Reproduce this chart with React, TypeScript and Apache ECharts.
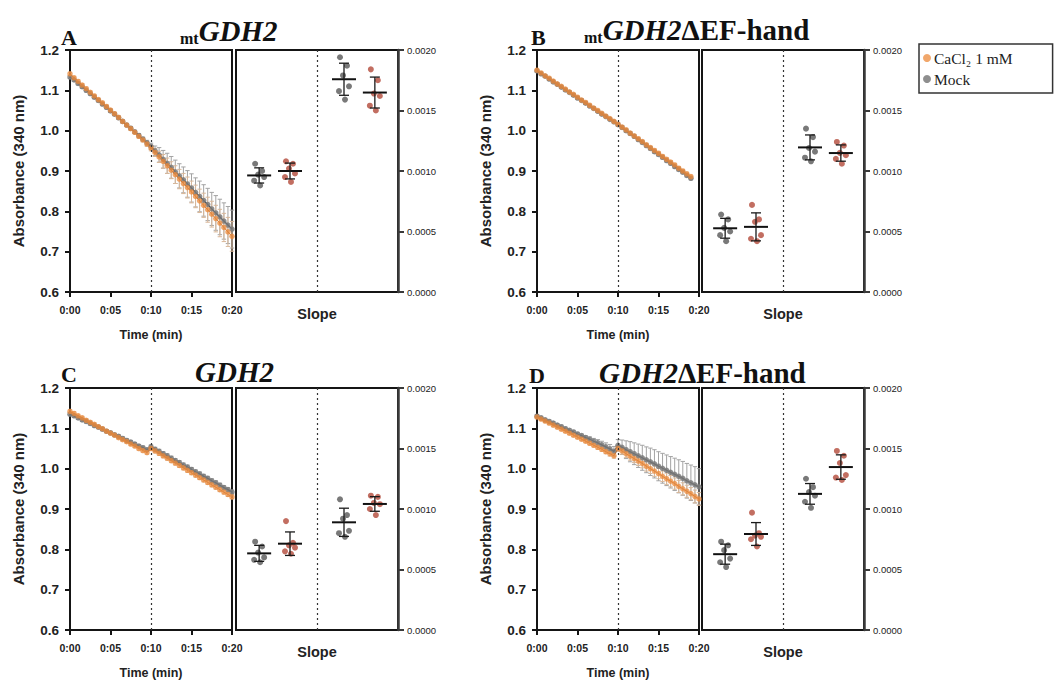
import React, { useEffect, useRef } from "react";
import * as echarts from "echarts";

// ---------------- DATA ----------------
const TIME = [0, 0.5, 1, 1.5, 2, 2.5, 3, 3.5, 4, 4.5, 5, 5.5, 6, 6.5, 7, 7.5, 8, 8.5, 9, 9.5, 10,
  10.5, 11, 11.5, 12, 12.5, 13, 13.5, 14, 14.5, 15, 15.5, 16, 16.5, 17, 17.5, 18, 18.5, 19, 19.5, 20];
const TIME_B = [0, 0.5, 1, 1.5, 2, 2.5, 3, 3.5, 4, 4.5, 5, 5.5, 6, 6.5, 7, 7.5, 8, 8.5, 9, 9.5, 10,
  10.5, 11, 11.5, 12, 12.5, 13, 13.5, 14, 14.5, 15, 15.5, 16, 16.5, 17, 17.5, 18, 18.5, 19];

const X_TICK_LABELS = ["0:00", "0:05", "0:10", "0:15", "0:20"];
const SERIES_NAMES = ["CaCl\u2082 1 mM", "Mock"];
const SLOPE_GROUPS = ["Mock 0:00-0:10", "CaCl2 0:00-0:10", "Mock 0:10-0:20", "CaCl2 0:10-0:20"];

// Panel A  (mtGDH2)
const A_MOCK = [1.133, 1.126, 1.117, 1.109, 1.100, 1.092, 1.083, 1.075, 1.066, 1.058, 1.049, 1.041, 1.032, 1.023, 1.014, 1.006, 0.997, 0.988, 0.979, 0.970, 0.961,
  0.950, 0.940, 0.929, 0.919, 0.909, 0.898, 0.888, 0.878, 0.868, 0.858, 0.847, 0.837, 0.827, 0.817, 0.806, 0.796, 0.786, 0.776, 0.766, 0.756];
const A_CA = [1.141, 1.131, 1.122, 1.113, 1.104, 1.095, 1.086, 1.077, 1.069, 1.060, 1.051, 1.042, 1.033, 1.023, 1.014, 1.005, 0.996, 0.986, 0.977, 0.967, 0.957,
  0.946, 0.935, 0.924, 0.913, 0.902, 0.891, 0.880, 0.869, 0.859, 0.848, 0.837, 0.826, 0.815, 0.804, 0.793, 0.782, 0.771, 0.760, 0.749, 0.738];
const A_MOCK_SD = [0.004, 0.004, 0.004, 0.004, 0.004, 0.004, 0.004, 0.004, 0.004, 0.004, 0.004, 0.004, 0.004, 0.004, 0.004, 0.004, 0.004, 0.005, 0.005, 0.006, 0.008,
  0.012, 0.018, 0.022, 0.025, 0.027, 0.029, 0.030, 0.032, 0.033, 0.035, 0.036, 0.038, 0.039, 0.040, 0.041, 0.043, 0.044, 0.045, 0.046, 0.047];
const A_CA_SD = [0.004, 0.004, 0.004, 0.004, 0.004, 0.004, 0.004, 0.004, 0.004, 0.004, 0.004, 0.004, 0.004, 0.004, 0.004, 0.004, 0.004, 0.005, 0.005, 0.006, 0.007,
  0.010, 0.014, 0.017, 0.019, 0.021, 0.022, 0.024, 0.025, 0.026, 0.027, 0.028, 0.029, 0.030, 0.031, 0.032, 0.033, 0.034, 0.035, 0.036, 0.037];

// Panel B  (mtGDH2ΔEF-hand)
const B_MOCK = [1.148, 1.141, 1.135, 1.128, 1.121, 1.115, 1.108, 1.101, 1.095, 1.088, 1.081, 1.075, 1.068, 1.061, 1.055, 1.048, 1.041, 1.035, 1.028, 1.022, 1.015,
  1.008, 1.000, 0.993, 0.986, 0.978, 0.971, 0.963, 0.956, 0.948, 0.941, 0.934, 0.926, 0.919, 0.911, 0.904, 0.897, 0.889, 0.882];
const B_CA = [1.150, 1.143, 1.136, 1.130, 1.123, 1.116, 1.110, 1.103, 1.096, 1.090, 1.083, 1.076, 1.070, 1.063, 1.056, 1.050, 1.043, 1.036, 1.030, 1.023, 1.016,
  1.009, 1.002, 0.994, 0.987, 0.980, 0.973, 0.965, 0.958, 0.951, 0.944, 0.936, 0.929, 0.922, 0.915, 0.907, 0.900, 0.893, 0.886];
const B_MOCK_SD = [0.003, 0.003, 0.003, 0.003, 0.003, 0.003, 0.003, 0.003, 0.003, 0.003, 0.003, 0.003, 0.003, 0.003, 0.003, 0.003, 0.003, 0.003, 0.003, 0.003, 0.004,
  0.004, 0.004, 0.004, 0.004, 0.004, 0.004, 0.004, 0.004, 0.004, 0.004, 0.004, 0.004, 0.004, 0.004, 0.004, 0.004, 0.004, 0.004];
const B_CA_SD = [0.003, 0.003, 0.003, 0.003, 0.003, 0.003, 0.003, 0.003, 0.003, 0.003, 0.003, 0.003, 0.003, 0.003, 0.003, 0.003, 0.003, 0.003, 0.003, 0.003, 0.004,
  0.004, 0.004, 0.004, 0.004, 0.004, 0.004, 0.004, 0.004, 0.004, 0.004, 0.004, 0.004, 0.004, 0.004, 0.004, 0.004, 0.004, 0.004];

// Panel C  (GDH2)
const C_MOCK = [1.135, 1.131, 1.126, 1.121, 1.117, 1.112, 1.107, 1.103, 1.098, 1.093, 1.089, 1.084, 1.080, 1.075, 1.070, 1.066, 1.061, 1.056, 1.052, 1.047, 1.054,
  1.048, 1.043, 1.037, 1.032, 1.026, 1.020, 1.015, 1.009, 1.004, 0.998, 0.992, 0.987, 0.981, 0.976, 0.970, 0.965, 0.959, 0.953, 0.948, 0.942];
const C_CA = [1.142, 1.137, 1.131, 1.126, 1.120, 1.115, 1.110, 1.104, 1.099, 1.093, 1.088, 1.083, 1.077, 1.072, 1.067, 1.061, 1.056, 1.050, 1.045, 1.040, 1.050,
  1.044, 1.038, 1.032, 1.026, 1.020, 1.014, 1.008, 1.002, 0.996, 0.990, 0.984, 0.978, 0.972, 0.966, 0.960, 0.954, 0.948, 0.942, 0.936, 0.930];
const C_MOCK_SD = [0.004, 0.004, 0.004, 0.004, 0.004, 0.004, 0.004, 0.004, 0.004, 0.004, 0.004, 0.004, 0.004, 0.004, 0.004, 0.004, 0.004, 0.004, 0.004, 0.004, 0.005,
  0.005, 0.005, 0.005, 0.005, 0.005, 0.005, 0.005, 0.005, 0.005, 0.005, 0.005, 0.005, 0.005, 0.005, 0.005, 0.005, 0.005, 0.005, 0.005, 0.005];
const C_CA_SD = [0.004, 0.004, 0.004, 0.004, 0.004, 0.004, 0.004, 0.004, 0.004, 0.004, 0.004, 0.004, 0.004, 0.004, 0.004, 0.004, 0.004, 0.004, 0.004, 0.004, 0.005,
  0.005, 0.005, 0.005, 0.005, 0.005, 0.005, 0.005, 0.005, 0.005, 0.005, 0.005, 0.005, 0.005, 0.005, 0.005, 0.005, 0.005, 0.005, 0.005, 0.005];

// Panel D  (GDH2ΔEF-hand)
const D_MOCK = [1.130, 1.126, 1.121, 1.117, 1.113, 1.108, 1.104, 1.099, 1.095, 1.091, 1.086, 1.082, 1.077, 1.073, 1.068, 1.064, 1.059, 1.054, 1.049, 1.043, 1.058,
  1.053, 1.047, 1.042, 1.037, 1.032, 1.027, 1.022, 1.017, 1.012, 1.006, 1.001, 0.996, 0.991, 0.986, 0.981, 0.976, 0.970, 0.965, 0.960, 0.955];
const D_CA = [1.128, 1.123, 1.118, 1.113, 1.108, 1.103, 1.098, 1.093, 1.088, 1.083, 1.078, 1.073, 1.068, 1.063, 1.058, 1.053, 1.048, 1.042, 1.037, 1.032, 1.050,
  1.044, 1.037, 1.031, 1.025, 1.019, 1.013, 1.006, 1.000, 0.994, 0.988, 0.981, 0.975, 0.969, 0.963, 0.956, 0.950, 0.944, 0.938, 0.931, 0.925];
const D_MOCK_SD = [0.004, 0.004, 0.004, 0.004, 0.004, 0.004, 0.004, 0.004, 0.004, 0.004, 0.004, 0.004, 0.005, 0.006, 0.007, 0.008, 0.009, 0.010, 0.011, 0.012, 0.014,
  0.018, 0.022, 0.025, 0.027, 0.029, 0.031, 0.032, 0.034, 0.035, 0.036, 0.037, 0.038, 0.039, 0.040, 0.041, 0.042, 0.043, 0.044, 0.045, 0.045];
const D_CA_SD = [0.004, 0.004, 0.004, 0.004, 0.004, 0.004, 0.004, 0.004, 0.004, 0.004, 0.004, 0.004, 0.004, 0.004, 0.004, 0.005, 0.005, 0.005, 0.006, 0.006, 0.007,
  0.008, 0.009, 0.010, 0.010, 0.011, 0.011, 0.012, 0.012, 0.013, 0.013, 0.013, 0.014, 0.014, 0.014, 0.015, 0.015, 0.015, 0.015, 0.016, 0.016];

// Slopes (individual replicates), order: Mock pre, CaCl2 pre, Mock post, CaCl2 post
const A_SLOPE_MOCK_PRE = [0.00106, 0.00100, 0.00097, 0.00095, 0.00092, 0.00088];
const A_SLOPE_CA_PRE = [0.00108, 0.00106, 0.00102, 0.00098, 0.00095, 0.00091];
const A_SLOPE_MOCK_POST = [0.00194, 0.00187, 0.00179, 0.00170, 0.00166, 0.00159];
const A_SLOPE_CA_POST = [0.00184, 0.00175, 0.00164, 0.00162, 0.00154, 0.00150];

const B_SLOPE_MOCK_PRE = [0.00064, 0.00060, 0.00053, 0.00050, 0.00047, 0.00042];
const B_SLOPE_CA_PRE = [0.00072, 0.00060, 0.00058, 0.00047, 0.00044, 0.00042];
const B_SLOPE_MOCK_POST = [0.00135, 0.00128, 0.00119, 0.00116, 0.00111, 0.00108];
const B_SLOPE_CA_POST = [0.00124, 0.00121, 0.00115, 0.00113, 0.00110, 0.00106];

const C_SLOPE_MOCK_PRE = [0.00073, 0.00069, 0.00064, 0.00060, 0.00058, 0.00056];
const C_SLOPE_CA_PRE = [0.00090, 0.00072, 0.00070, 0.00068, 0.00065, 0.00063];
const C_SLOPE_MOCK_POST = [0.00108, 0.00095, 0.00092, 0.00082, 0.00080, 0.00077];
const C_SLOPE_CA_POST = [0.00111, 0.00110, 0.00105, 0.00104, 0.00100, 0.00095];

const D_SLOPE_MOCK_PRE = [0.00073, 0.00070, 0.00066, 0.00059, 0.00056, 0.00052];
const D_SLOPE_CA_PRE = [0.00097, 0.00080, 0.00078, 0.00077, 0.00075, 0.00069];
const D_SLOPE_MOCK_POST = [0.00125, 0.00118, 0.00114, 0.00111, 0.00106, 0.00101];
const D_SLOPE_CA_POST = [0.00148, 0.00144, 0.00138, 0.00128, 0.00126, 0.00124];

const PANELS = [
  { letter: "A", mt: true, name: "GDH2", suffix: "", time: TIME, mock: A_MOCK, ca: A_CA, mockSd: A_MOCK_SD, caSd: A_CA_SD,
    slopes: [A_SLOPE_MOCK_PRE, A_SLOPE_CA_PRE, A_SLOPE_MOCK_POST, A_SLOPE_CA_POST] },
  { letter: "B", mt: true, name: "GDH2", suffix: "\u0394EF-hand", time: TIME_B, mock: B_MOCK, ca: B_CA, mockSd: B_MOCK_SD, caSd: B_CA_SD,
    slopes: [B_SLOPE_MOCK_PRE, B_SLOPE_CA_PRE, B_SLOPE_MOCK_POST, B_SLOPE_CA_POST] },
  { letter: "C", mt: false, name: "GDH2", suffix: "", time: TIME, mock: C_MOCK, ca: C_CA, mockSd: C_MOCK_SD, caSd: C_CA_SD,
    slopes: [C_SLOPE_MOCK_PRE, C_SLOPE_CA_PRE, C_SLOPE_MOCK_POST, C_SLOPE_CA_POST] },
  { letter: "D", mt: false, name: "GDH2", suffix: "\u0394EF-hand", time: TIME, mock: D_MOCK, ca: D_CA, mockSd: D_MOCK_SD, caSd: D_CA_SD,
    slopes: [D_SLOPE_MOCK_PRE, D_SLOPE_CA_PRE, D_SLOPE_MOCK_POST, D_SLOPE_CA_POST] },
];

// ---------------- LAYOUT / STYLE ----------------
const LAYOUT = [
  { timeLeft: 70, slopeLeft: 236, top: 50, letterX: 61, letterY: 37, titleX: 180, titleY: 31 },
  { timeLeft: 537, slopeLeft: 702, top: 50, letterX: 531, letterY: 37, titleX: 584, titleY: 30 },
  { timeLeft: 70, slopeLeft: 236, top: 388, letterX: 61, letterY: 374, titleX: 195, titleY: 372 },
  { timeLeft: 537, slopeLeft: 702, top: 388, letterX: 529, letterY: 375, titleX: 599, titleY: 373 },
];
const PW = 162;
const PH = 242;
const GROUP_X = [0, 1, 2.75, 3.75];
const SLOPE_X_MIN = -0.75;
const SLOPE_X_MAX = 4.5;
const JITTER_PX = [-4, 3, -1, 5, -5, 1];

const SANS = "'Liberation Sans', Arial, Helvetica, sans-serif";
const SERIF = "'Liberation Serif', 'Times New Roman', Times, serif";
const MOCK_COLOR = "#7a7a7a";
const CA_COLOR = "#ec8a3a";
const MOCK_SLOPE_COLOR = "#6a6a6a";
const CA_SLOPE_COLOR = "#bb5e50";
const INK = "#151515";

function mean(a: number[]) {
  return a.reduce((s, v) => s + v, 0) / a.length;
}
function sd(a: number[]) {
  const m = mean(a);
  return Math.sqrt(a.reduce((s, v) => s + (v - m) * (v - m), 0) / (a.length - 1));
}

function errRender(color: string) {
  return (params: any, api: any) => {
    const x = api.value(0);
    const y = api.value(1);
    const e = api.value(2);
    const top = api.coord([x, y + e]);
    const bot = api.coord([x, y - e]);
    const hw = 2.2;
    const style = { stroke: color, lineWidth: 1 };
    return {
      type: "group",
      children: [
        { type: "line", shape: { x1: top[0], y1: top[1], x2: bot[0], y2: bot[1] }, style },
        { type: "line", shape: { x1: top[0] - hw, y1: top[1], x2: top[0] + hw, y2: top[1] }, style },
        { type: "line", shape: { x1: bot[0] - hw, y1: bot[1], x2: bot[0] + hw, y2: bot[1] }, style },
      ],
    };
  };
}

function summaryRender(params: any, api: any) {
  const x = api.value(0);
  const m = api.value(1);
  const s = api.value(2);
  const c = api.coord([x, m]);
  const t = api.coord([x, m + s]);
  const b = api.coord([x, m - s]);
  const thin = { stroke: "#1a1a1a", lineWidth: 1.3 };
  return {
    type: "group",
    children: [
      { type: "line", shape: { x1: c[0] - 12, y1: c[1], x2: c[0] + 12, y2: c[1] }, style: { stroke: "#111", lineWidth: 2 } },
      { type: "line", shape: { x1: t[0], y1: t[1], x2: b[0], y2: b[1] }, style: thin },
      { type: "line", shape: { x1: t[0] - 5, y1: t[1], x2: t[0] + 5, y2: t[1] }, style: thin },
      { type: "line", shape: { x1: b[0] - 5, y1: b[1], x2: b[0] + 5, y2: b[1] }, style: thin },
    ],
  };
}

function buildOption() {
  const grid: any[] = [];
  const xAxis: any[] = [];
  const yAxis: any[] = [];
  const series: any[] = [];
  const graphic: any[] = [];

  const dotted = {
    silent: true,
    symbol: ["none", "none"],
    label: { show: false },
    lineStyle: { type: [2, 3], color: "#333", width: 1.2 },
  };

  PANELS.forEach((p, i) => {
    const L = LAYOUT[i];
    const gt = i * 2;
    const gs = i * 2 + 1;
    grid.push({ left: L.timeLeft, top: L.top, width: PW, height: PH, show: true, borderColor: INK, borderWidth: 2, backgroundColor: "transparent" });
    grid.push({ left: L.slopeLeft, top: L.top, width: PW, height: PH, show: true, borderColor: INK, borderWidth: 2, backgroundColor: "transparent" });

    xAxis.push({
      gridIndex: gt, type: "value", min: 0, max: 20, interval: 5,
      name: "Time (min)", nameLocation: "middle", nameGap: 36,
      nameTextStyle: { fontFamily: SANS, fontWeight: "bold", fontSize: 12.5, color: "#222" },
      axisLine: { show: true, onZero: false, lineStyle: { color: INK, width: 2 } },
      axisTick: { show: true, length: 5, lineStyle: { color: INK, width: 2 } },
      axisLabel: { margin: 12, fontFamily: SANS, fontWeight: "bold", fontSize: 10.5, color: "#222",
        formatter: (v: number) => X_TICK_LABELS[Math.round(v / 5)] },
      splitLine: { show: false },
    });
    xAxis.push({
      gridIndex: gs, type: "value", min: SLOPE_X_MIN, max: SLOPE_X_MAX,
      name: "Slope", nameLocation: "middle", nameGap: 14,
      nameTextStyle: { fontFamily: SANS, fontWeight: "bold", fontSize: 14.5, color: "#222" },
      axisLine: { show: false, onZero: false }, axisTick: { show: false }, axisLabel: { show: false }, splitLine: { show: false },
    });
    yAxis.push({
      gridIndex: gt, type: "value", min: 0.6, max: 1.2, interval: 0.1,
      name: "Absorbance (340 nm)", nameLocation: "middle", nameGap: 44,
      nameTextStyle: { fontFamily: SANS, fontWeight: "bold", fontSize: 15, color: "#222" },
      axisLine: { show: true, onZero: false, lineStyle: { color: INK, width: 2 } },
      axisTick: { show: true, length: 5, lineStyle: { color: INK, width: 2 } },
      axisLabel: { margin: 11, fontFamily: SANS, fontWeight: "bold", fontSize: 13.5, color: "#222",
        formatter: (v: number) => v.toFixed(1) },
      splitLine: { show: false },
    });
    yAxis.push({
      gridIndex: gs, type: "value", position: "right", min: 0, max: 0.002, interval: 0.0005,
      axisLine: { show: true, onZero: false, lineStyle: { color: "#3a3a3a", width: 2.5 } },
      axisTick: { show: true, length: 6, lineStyle: { color: "#3a3a3a", width: 2 } },
      axisLabel: { margin: 9, fontFamily: SANS, fontSize: 9.5, color: "#222",
        formatter: (v: number) => v.toFixed(4) },
      splitLine: { show: false },
    });

    // time-course error bars
    series.push({
      type: "custom", name: "Mock SD " + p.letter, xAxisIndex: gt, yAxisIndex: gt, silent: true, z: 2,
      encode: { x: 0, y: 1 }, renderItem: errRender("#a3a3a3"),
      data: p.time.map((t, k) => [t, p.mock[k], p.mockSd[k]]),
    });
    series.push({
      type: "custom", name: "CaCl2 SD " + p.letter, xAxisIndex: gt, yAxisIndex: gt, silent: true, z: 2,
      encode: { x: 0, y: 1 }, renderItem: errRender("#d9b89a"),
      data: p.time.map((t, k) => [t, p.ca[k], p.caSd[k]]),
    });
    // time-course means
    series.push({
      type: "line", name: SERIES_NAMES[1], xAxisIndex: gt, yAxisIndex: gt, z: 3,
      symbol: "circle", symbolSize: 5.5, showSymbol: true,
      itemStyle: { color: MOCK_COLOR, opacity: 0.85 },
      lineStyle: { color: "#3c3c3c", width: 1.3 },
      data: p.time.map((t, k) => [t, p.mock[k]]),
      markLine: { ...dotted, data: [{ xAxis: 10 }] },
    });
    series.push({
      type: "line", name: SERIES_NAMES[0], xAxisIndex: gt, yAxisIndex: gt, z: 4,
      symbol: "circle", symbolSize: 5.5, showSymbol: true,
      itemStyle: { color: CA_COLOR, opacity: 0.75 },
      lineStyle: { color: "#b8703a", width: 1 },
      data: p.time.map((t, k) => [t, p.ca[k]]),
    });

    // slope replicates
    const mk = (g: number) => p.slopes[g].map((v, k) => ({ value: [GROUP_X[g], v], symbolOffset: [JITTER_PX[k % JITTER_PX.length], 0] }));
    series.push({
      type: "scatter", name: SERIES_NAMES[1], xAxisIndex: gs, yAxisIndex: gs, z: 3,
      symbol: "circle", symbolSize: 6,
      itemStyle: { color: MOCK_SLOPE_COLOR, opacity: 0.9 },
      data: [...mk(0), ...mk(2)],
      markLine: { ...dotted, data: [{ xAxis: (GROUP_X[1] + GROUP_X[2]) / 2 }] },
    });
    series.push({
      type: "scatter", name: SERIES_NAMES[0], xAxisIndex: gs, yAxisIndex: gs, z: 3,
      symbol: "circle", symbolSize: 6,
      itemStyle: { color: CA_SLOPE_COLOR, opacity: 0.9 },
      data: [...mk(1), ...mk(3)],
    });
    series.push({
      type: "custom", name: "Slope mean " + p.letter, xAxisIndex: gs, yAxisIndex: gs, silent: true, z: 5,
      encode: { x: 0, y: 1 }, renderItem: summaryRender,
      data: SLOPE_GROUPS.map((_, g) => [GROUP_X[g], mean(p.slopes[g]), sd(p.slopes[g])]),
    });

    // panel letter and title
    graphic.push({
      type: "text", x: L.letterX, y: L.letterY, silent: true,
      style: { text: p.letter, font: `bold 22px ${SERIF}`, fill: "#111", align: "left", verticalAlign: "middle", textAlign: "left", textVerticalAlign: "middle" },
    });
    const txt = (p.mt ? "{mt|mt}" : "") + "{g|" + p.name + "}" + (p.suffix ? "{s|" + p.suffix + "}" : "");
    graphic.push({
      type: "text", x: L.titleX, y: L.titleY, silent: true,
      style: {
        text: txt, align: "left", verticalAlign: "middle", textAlign: "left", textVerticalAlign: "middle", fill: "#111",
        rich: {
          mt: { fontFamily: SERIF, fontWeight: "bold", fontSize: 16, verticalAlign: "bottom", fill: "#111", lineHeight: 16 },
          g: { fontFamily: SERIF, fontWeight: "bold", fontStyle: "italic", fontSize: 29, fill: "#111", lineHeight: 30 },
          s: { fontFamily: SERIF, fontWeight: "bold", fontSize: 29, fill: "#111", lineHeight: 30 },
        },
      },
    });
  });

  return {
    animation: false,
    backgroundColor: "#ffffff",
    grid, xAxis, yAxis, series, graphic,
    legend: {
      data: [{ name: SERIES_NAMES[0], icon: "circle" }, { name: SERIES_NAMES[1], icon: "circle" }],
      orient: "vertical", left: 919, top: 44, selectedMode: false,
      itemWidth: 8, itemHeight: 8, itemGap: 5,
      padding: [6, 40, 6, 4],
      borderColor: "#333", borderWidth: 1.5,
      textStyle: { fontFamily: SERIF, fontSize: 15.5, color: "#222", padding: [0, 0, 0, -2] },
    },
  };
}

export default function App() {
  const ref = useRef<HTMLDivElement>(null);
  useEffect(() => {
    if (!ref.current) return;
    const chart = echarts.init(ref.current, null, { renderer: "svg" });
    chart.setOption(buildOption() as any);
    return () => chart.dispose();
  }, []);
  return (
    <div
      ref={ref}
      style={{ position: "absolute", left: 0, top: 0, width: 1057, height: 680, background: "#fff" }}
    />
  );
}
